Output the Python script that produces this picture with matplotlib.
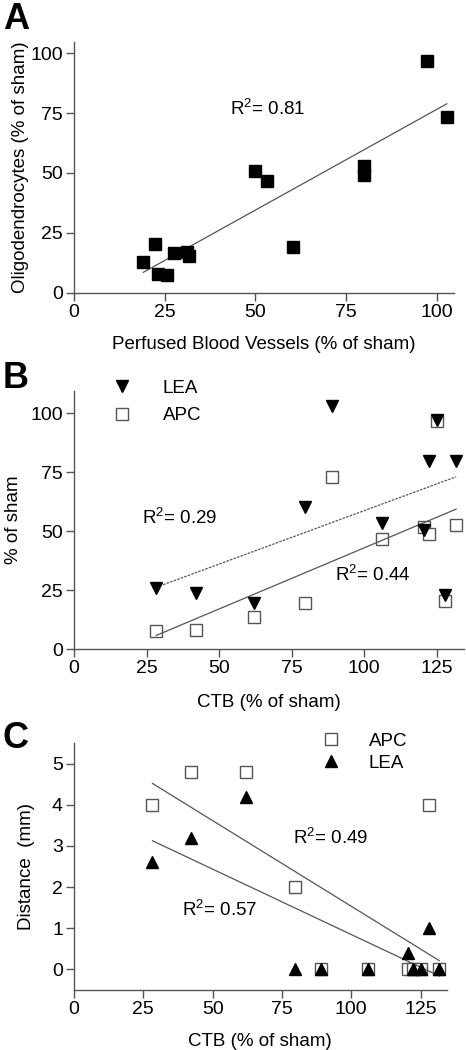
"""
Three stacked scatter panels (A, B, C) with linear fits, GraphPad style.
"""

import matplotlib

matplotlib.use("Agg")
import matplotlib.pyplot as plt
import numpy as np

plt.rcParams["font.family"] = ["Liberation Sans", "DejaVu Sans"]
plt.rcParams["mathtext.fontset"] = "custom"
plt.rcParams["mathtext.rm"] = "Liberation Sans"
plt.rcParams["mathtext.default"] = "regular"

# panel A: perfused vessels vs oligodendrocytes
vessels_a = [19.1, 22.3, 23.2, 25.5, 27.5, 31.2, 31.7, 49.9, 53.1, 60.2, 79.9, 79.9, 97.2, 102.7]
oligo_a = [13.0, 20.4, 7.9, 7.4, 16.5, 17.2, 15.4, 51.0, 46.5, 19.3, 52.9, 49.2, 96.8, 73.2]

# panels B and C share the CTB x values
ctb = [28.3, 42.2, 62.0, 79.6, 89.0, 106.0, 120.6, 122.2, 125.0, 127.9, 131.7]
lea_b = [25.7, 23.6, 19.4, 60.4, 103.1, 53.6, 50.5, 79.9, 97.2, 22.9, 79.9]
apc_b = [7.6, 8.1, 13.4, 19.4, 73.1, 46.5, 51.6, 48.8, 96.7, 20.5, 52.6]

apc_c = [4.0, 4.8, 4.8, 2.0, 0.0, 0.0, 0.0, 0.0, 0.0, 4.0, 0.0]
lea_c = [2.6, 3.2, 4.2, 0.0, 0.0, 0.0, 0.4, 0.0, 0.0, 1.0, 0.0]

GREY = "#555555"
TICK_FS = 14
LABEL_FS = 13.5


def style(ax):
    for s in ("top", "right"):
        ax.spines[s].set_visible(False)
    for s in ("left", "bottom"):
        ax.spines[s].set_color(GREY)
        ax.spines[s].set_linewidth(1.0)
    ax.tick_params(direction="out", length=6, width=1.0, color=GREY,
                   labelsize=TICK_FS, pad=2)


def fit_line(ax, x, y, **kw):
    x = np.asarray(x)
    m, b = np.polyfit(x, y, 1)
    xs = np.array([x.min(), x.max()])
    ax.plot(xs, m * xs + b, color=GREY, lw=0.9, **kw)


fig = plt.figure(figsize=(4.66, 10.5), dpi=100)

# ---- A ----
ax = fig.add_axes([0.1588, 0.7210, 0.8155, 0.2390])
style(ax)
ax.plot(vessels_a, oligo_a, "s", color="black", ms=9, zorder=3)
fit_line(ax, vessels_a, oligo_a)
ax.set_xlim(0, 104.7)
ax.set_ylim(0, 104.6)
ax.set_xticks([0, 25, 50, 75, 100])
ax.set_yticks([0, 25, 50, 75, 100])
ax.text(43, 76.5, r"R$^2$= 0.81", fontsize=LABEL_FS, va="center")
ax.set_xlabel("Perfused Blood Vessels (% of sham)", fontsize=LABEL_FS, labelpad=11)
ax.set_ylabel("Oligodendrocytes (% of sham)", fontsize=LABEL_FS, labelpad=1)
fig.text(0.006, 0.998, "A", fontsize=26, fontweight="bold", va="top")

# ---- B ----
ax = fig.add_axes([0.1588, 0.3819, 0.8369, 0.2457])
style(ax)
ax.plot(ctb, lea_b, "v", color="black", ms=8, zorder=3, label="LEA")
ax.plot(ctb, apc_b, "s", mfc="white", mec=GREY, mew=1.0, ms=8, zorder=2, label="APC")
fit_line(ax, ctb, lea_b, ls=(0, (2, 1)))
fit_line(ax, ctb, apc_b)
ax.set_xlim(0, 134.4)
ax.set_ylim(0, 109.5)
ax.set_xticks([0, 25, 50, 75, 100, 125])
ax.set_yticks([0, 25, 50, 75, 100])
ax.text(23.3, 55.5, r"R$^2$= 0.29", fontsize=LABEL_FS, va="center")
ax.text(90, 31.5, r"R$^2$= 0.44", fontsize=LABEL_FS, va="center")
ax.legend(loc="upper left", bbox_to_anchor=(0.055, 1.11), frameon=False,
          fontsize=LABEL_FS, handlelength=1.0, handletextpad=1.7, labelspacing=0.55)
ax.set_xlabel("CTB (% of sham)", fontsize=LABEL_FS, labelpad=12)
ax.set_ylabel("% of sham", fontsize=LABEL_FS, labelpad=6)
fig.text(0.006, 0.640, "B", fontsize=26, fontweight="bold", va="center")

# ---- C ----
ax = fig.add_axes([0.1588, 0.05714, 0.7998, 0.2352])
style(ax)
ax.plot(ctb, apc_c, "s", mfc="white", mec=GREY, mew=1.0, ms=8.5, zorder=2, label="APC")
ax.plot(ctb, lea_c, "^", color="black", ms=8, zorder=3, label="LEA")
fit_line(ax, ctb, apc_c)
fit_line(ax, ctb, lea_c)
ax.set_xlim(0, 134.4)
ax.set_ylim(-0.5, 5.5)
ax.set_xticks([0, 25, 50, 75, 100, 125])
ax.set_yticks([0, 1, 2, 3, 4, 5])
ax.text(79, 3.2, r"R$^2$= 0.49", fontsize=LABEL_FS, va="center")
ax.text(39, 1.45, r"R$^2$= 0.57", fontsize=LABEL_FS, va="center")
ax.legend(loc="upper left", bbox_to_anchor=(0.62, 1.11), frameon=False,
          fontsize=LABEL_FS, handlelength=1.0, handletextpad=1.5, labelspacing=0.25)
ax.set_xlabel("CTB (% of sham)", fontsize=LABEL_FS, labelpad=11)
ax.set_ylabel("Distance  (mm)", fontsize=LABEL_FS, labelpad=12)
fig.text(0.006, 0.297, "C", fontsize=26, fontweight="bold", va="center")

fig.savefig("out.png", dpi=100)
